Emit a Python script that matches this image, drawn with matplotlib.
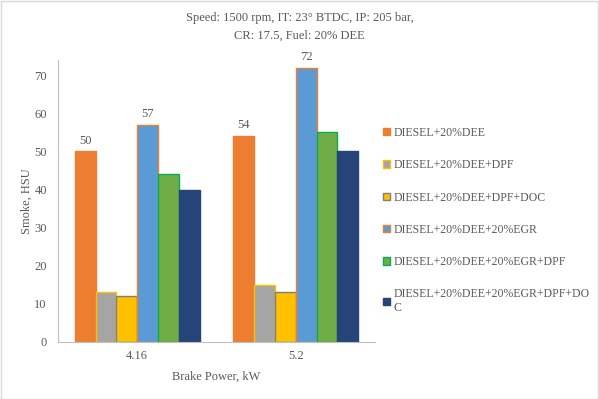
import numpy as np
import matplotlib.pyplot as plt
from matplotlib.patches import Rectangle

plt.rcParams['font.family'] = ['Liberation Serif', 'DejaVu Serif']

# Data
categories = ["4.16", "5.2"]
series_names = ["DIESEL+20%DEE", "DIESEL+20%DEE+DPF", "DIESEL+20%DEE+DPF+DOC",
                "DIESEL+20%DEE+20%EGR", "DIESEL+20%DEE+20%EGR+DPF",
                "DIESEL+20%DEE+20%EGR+DPF+DO\nC"]
d_dee = [50, 54]
d_dee_dpf = [13, 15]
d_dee_dpf_doc = [12, 13]
d_egr = [57, 72]
d_egr_dpf = [44, 55]
d_egr_dpf_doc = [40, 50]
values = [d_dee, d_dee_dpf, d_dee_dpf_doc, d_egr, d_egr_dpf, d_egr_dpf_doc]
labelled = [0, 3]

fills = ["#ED7D31", "#A5A5A5", "#FFC000", "#5B9BD5", "#70AD47", "#264478"]
edges = ["#ED7D31", "#FFC000", "#7F7F7F", "#ED7D31", "#00B050", "#264478"]
txt = "#595959"

fig = plt.figure(figsize=(5.99, 3.99), dpi=100)
ax = fig.add_axes([58/599, 57/399, 317/599, 282/399])

x = np.arange(len(categories))
w = 0.79 / 6
handles = []
for i, vals in enumerate(values):
    pos = x - 0.79/2 + w*(i + 0.5)
    bars = ax.bar(pos, vals, w, color=fills[i], edgecolor=edges[i], linewidth=1)
    if i in labelled:
        for b, v in zip(bars, vals):
            ax.text(b.get_x() + b.get_width()/2, v + 1.3, str(v), ha="center",
                    va="bottom", fontsize=9, color=txt)
    handles.append(Rectangle((0, 0), 1, 1, facecolor=fills[i], edgecolor=edges[i], linewidth=1))

ax.set_xlim(-0.5, 1.5)
ax.set_ylim(0, 74)
ax.set_yticks(range(0, 71, 10))
ax.set_xticks(x)
ax.set_xticklabels(categories)
ax.tick_params(axis="x", length=0, labelsize=9, colors=txt, pad=6)
ax.tick_params(axis="y", length=0, labelsize=9, colors=txt, pad=8)
for s in ["top", "right"]:
    ax.spines[s].set_visible(False)
ax.spines["left"].set_color("#BFBFBF")
ax.spines["bottom"].set_color("#BFBFBF")
ax.set_ylabel("Smoke, HSU", fontsize=9, color=txt)
ax.yaxis.set_label_coords(-0.08, 0.5)
ax.set_xlabel("Brake Power, kW", fontsize=9, color=txt, labelpad=6)

fig.text(0.5, 0.933, "Speed: 1500 rpm, IT: 23° BTDC, IP: 205 bar,\nCR: 17.5, Fuel: 20% DEE",
         ha="center", va="center", fontsize=9, color=txt, linespacing=1.6)

fig.legend(handles, series_names, loc="upper left", bbox_to_anchor=(377/599, 1 - 121/399),
           frameon=False, fontsize=8.5, labelcolor=txt, handlelength=0.6, handleheight=0.6,
           handletextpad=0.3, labelspacing=1.72, borderpad=0)

fig.patches.append(Rectangle((0.001, 0.001), 0.997, 0.997, transform=fig.transFigure,
                             fill=False, edgecolor="#D9D9D9", linewidth=1))

fig.savefig("out.png", dpi=100)
